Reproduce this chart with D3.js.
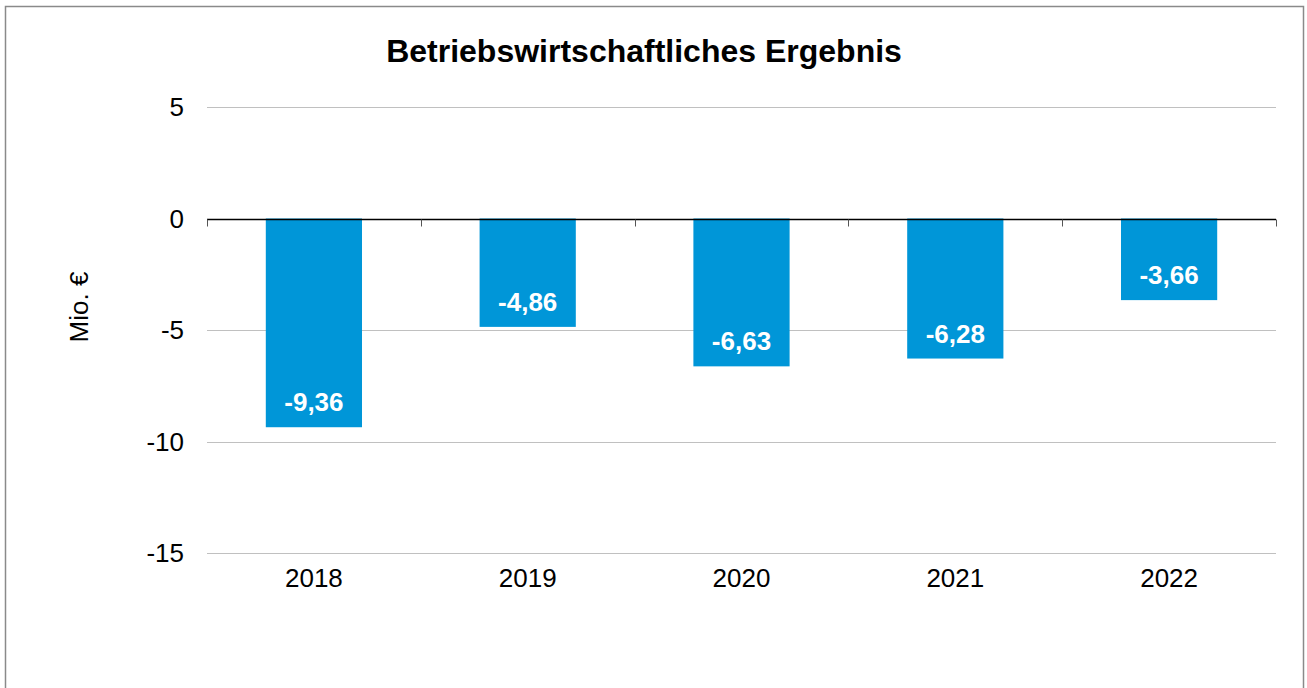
<!DOCTYPE html>
<html>
  <head>
    <meta charset="utf-8">
    <title>Betriebswirtschaftliches Ergebnis</title>
    <script src="https://cdn.jsdelivr.net/npm/d3@7"></script>
    <style>
      body { margin: 0; background: #fff; }
      svg { display: block; font-family: "Liberation Sans", Arial, sans-serif; }
      .grid line { stroke: #c0c0c0; stroke-width: 1; }
      .yLabels text { font-size: 26px; fill: #000; }
      .xLabels text { font-size: 26px; fill: #000; }
    </style>
  </head>
  <body>
    <svg id="chart" width="1307" height="688"></svg>

    <script>
      // data
      years = ["2018", "2019", "2020", "2021", "2022"];
      values = [-9.36, -4.86, -6.63, -6.28, -3.66];
      yTicks = [5, 0, -5, -10, -15];

      chart = d3.select("#chart");
      margin = { top: 107, right: 31, bottom: 135, left: 207 };
      width = 1307;
      height = 688;

      // frame
      chart.append("rect")
        .attr("x", 5.5)
        .attr("y", 6.5)
        .attr("width", 1298)
        .attr("height", 700)
        .attr("fill", "none")
        .attr("stroke", "#8a8a8a")
        .attr("stroke-width", 1.5);

      x = d3.scaleBand()
        .domain(years)
        .range([margin.left, width - margin.right])
        .paddingInner(0.55)
        .paddingOuter(0.275);

      y = d3.scaleLinear()
        .domain([5, -15])
        .range([107, 553]);

      // gridlines
      chart.append("g")
        .classed("grid", true)
        .selectAll("line")
          .data(yTicks.filter(d => d != 0))
        .enter().append("line")
          .attr("x1", margin.left)
          .attr("x2", width - margin.right)
          .attr("y1", d => Math.round(y(d)) + 0.5)
          .attr("y2", d => Math.round(y(d)) + 0.5);

      // y labels
      chart.append("g")
        .classed("yLabels", true)
        .selectAll("text")
          .data(yTicks)
        .enter().append("text")
          .attr("x", 184)
          .attr("y", d => y(d) + 9)
          .attr("text-anchor", "end")
          .text(d => d);

      // bars
      chart.append("g")
        .selectAll("rect")
          .data(values)
        .enter().append("rect")
          .attr("x", (d, i) => x(years[i]))
          .attr("y", y(0))
          .attr("width", x.bandwidth())
          .attr("height", d => y(d) - y(0))
          .attr("fill", "#0096d8");

      // value labels
      chart.append("g")
        .selectAll("text")
          .data(values)
        .enter().append("text")
          .attr("x", (d, i) => x(years[i]) + x.bandwidth() / 2)
          .attr("y", d => y(d) - 16)
          .attr("text-anchor", "middle")
          .attr("fill", "#fff")
          .style("font-size", "26px")
          .style("font-weight", "bold")
          .text(d => d3.format(".2f")(d).replace(".", ",").replace("\u2212", "-"));

      // zero axis and category ticks
      zero = Math.round(y(0)) + 0.5;
      axis = chart.append("g");
      axis.append("line")
        .attr("x1", margin.left)
        .attr("x2", width - margin.right)
        .attr("y1", zero)
        .attr("y2", zero)
        .attr("stroke", "#000")
        .attr("stroke-width", 1.3);
      step = x.step();
      axis.selectAll(".tick")
        .data(d3.range(years.length + 1))
        .enter().append("line")
          .attr("x1", i => Math.round(margin.left + i * step) + 0.5)
          .attr("x2", i => Math.round(margin.left + i * step) + 0.5)
          .attr("y1", zero)
          .attr("y2", zero + 7)
          .attr("stroke", "#555");

      // x labels
      chart.append("g")
        .classed("xLabels", true)
        .selectAll("text")
          .data(years)
        .enter().append("text")
          .attr("x", d => x(d) + x.bandwidth() / 2)
          .attr("y", 587)
          .attr("text-anchor", "middle")
          .text(d => d);

      // title
      chart.append("text")
        .attr("x", 644)
        .attr("y", 62)
        .attr("text-anchor", "middle")
        .style("font-size", "32px")
        .style("font-weight", "bold")
        .text("Betriebswirtschaftliches Ergebnis");

      // axis title
      chart.append("text")
        .attr("transform", "translate(88, 307) rotate(-90)")
        .attr("text-anchor", "middle")
        .style("font-size", "26px")
        .text("Mio. €");
    </script>
  </body>
</html>
